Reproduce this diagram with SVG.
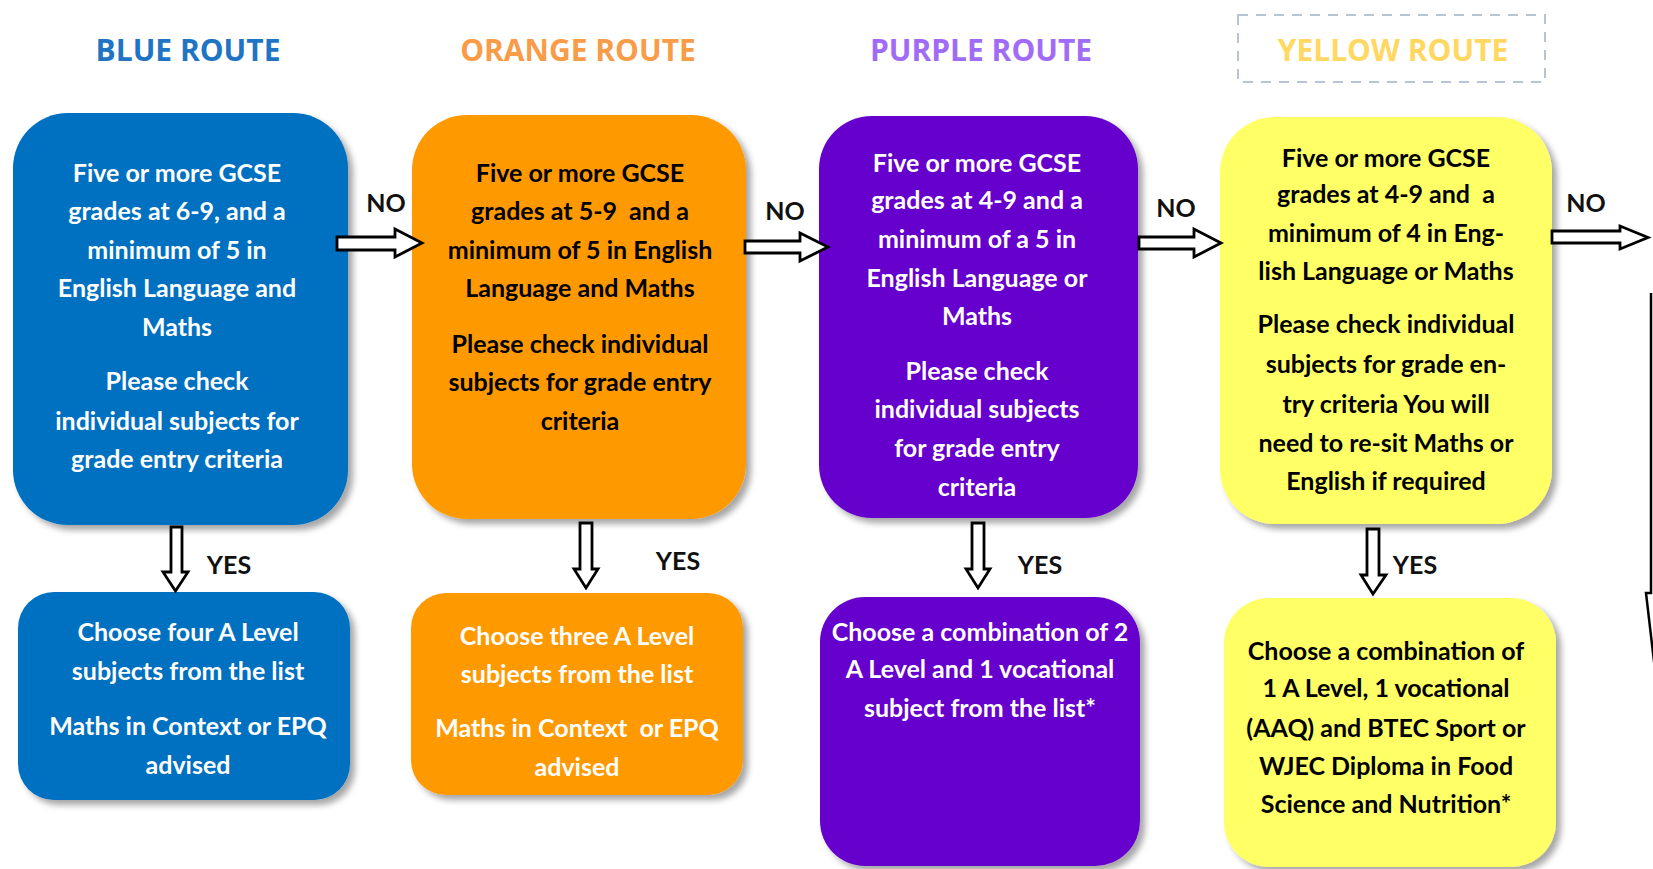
<svg xmlns="http://www.w3.org/2000/svg" width="1653" height="869" viewBox="0 0 1653 869">
<style>
.title{font-family:"Open Sans","Liberation Sans",sans-serif;font-weight:700;font-size:30px;text-anchor:middle}
.t{font-family:Lato,"Liberation Sans",sans-serif;font-weight:700;font-size:25px;text-anchor:middle;white-space:pre}
.w{fill:#ffffff}
.k{fill:#000000}
.lbl{font-family:Lato,"Liberation Sans",sans-serif;font-weight:700;font-size:25px;text-anchor:middle;fill:#111111}
.arr{fill:#ffffff;stroke:#000000;stroke-width:2.8;stroke-linejoin:miter}
.box{filter:url(#sh)}
</style>
<defs>
<filter id="sh" x="-10%" y="-10%" width="125%" height="125%">
<feDropShadow dx="5" dy="5" stdDeviation="3" flood-color="#000000" flood-opacity="0.35"/>
</filter>
</defs>
<rect width="1653" height="869" fill="#ffffff"/>

<g id="title-blue"><text class="title" x="188" y="61" fill="#1F74C4">BLUE ROUTE</text></g>
<g id="title-orange"><text class="title" x="578" y="61" fill="#F89C48">ORANGE ROUTE</text></g>
<g id="title-purple"><text class="title" x="981" y="61" fill="#A06CF6">PURPLE ROUTE</text></g>
<g id="title-yellow">
<rect x="1238" y="15" width="307" height="67" fill="none" stroke="#B8C4D4" stroke-width="2" stroke-dasharray="10,8"/>
<text class="title" x="1393" y="61" fill="#FFD862">YELLOW ROUTE</text>
</g>

<g id="blue-criteria">
<rect class="box" x="13" y="113" width="335" height="412" rx="55" ry="55" fill="#0070C0"/>
<text class="t w" x="177"><tspan x="177" y="182">Five or more GCSE</tspan><tspan x="177" y="220">grades at 6-9, and a</tspan><tspan x="177" y="259">minimum of 5 in</tspan><tspan x="177" y="297">English Language and</tspan><tspan x="177" y="336">Maths</tspan><tspan x="177" y="390">Please check</tspan><tspan x="177" y="430">individual subjects for</tspan><tspan x="177" y="468">grade entry criteria</tspan></text>
</g>
<g id="orange-criteria">
<rect class="box" x="412" y="115" width="334" height="404" rx="55" ry="55" fill="#FF9900"/>
<text class="t k" x="580"><tspan x="580" y="182">Five or more GCSE</tspan><tspan x="580" y="220">grades at 5-9  and a</tspan><tspan x="580" y="259">minimum of 5 in English</tspan><tspan x="580" y="297">Language and Maths</tspan><tspan x="580" y="353">Please check individual</tspan><tspan x="580" y="391">subjects for grade entry</tspan><tspan x="580" y="430">criteria</tspan></text>
</g>
<g id="purple-criteria">
<rect class="box" x="819" y="116" width="319" height="402" rx="53" ry="53" fill="#6600CC"/>
<text class="t w" x="977"><tspan x="977" y="172">Five or more GCSE</tspan><tspan x="977" y="209">grades at 4-9 and a</tspan><tspan x="977" y="248">minimum of a 5 in</tspan><tspan x="977" y="287">English Language or</tspan><tspan x="977" y="325">Maths</tspan><tspan x="977" y="380">Please check</tspan><tspan x="977" y="418">individual subjects</tspan><tspan x="977" y="457">for grade entry</tspan><tspan x="977" y="496">criteria</tspan></text>
</g>
<g id="yellow-criteria">
<rect class="box" x="1220" y="117" width="332" height="407" rx="55" ry="55" fill="#FFFF66"/>
<text class="t k" x="1386"><tspan x="1386" y="167">Five or more GCSE</tspan><tspan x="1386" y="203">grades at 4-9 and  a</tspan><tspan x="1386" y="242">minimum of 4 in Eng-</tspan><tspan x="1386" y="280">lish Language or Maths</tspan><tspan x="1386" y="333">Please check individual</tspan><tspan x="1386" y="373">subjects for grade en-</tspan><tspan x="1386" y="413">try criteria You will</tspan><tspan x="1386" y="452">need to re-sit Maths or</tspan><tspan x="1386" y="490">English if required</tspan></text>
</g>

<g id="blue-outcome">
<rect class="box" x="18" y="592" width="332" height="208" rx="36" ry="36" fill="#0070C0"/>
<text class="t w" x="188"><tspan x="188" y="641">Choose four A Level</tspan><tspan x="188" y="680">subjects from the list</tspan><tspan x="188" y="735">Maths in Context or EPQ</tspan><tspan x="188" y="774">advised</tspan></text>
</g>
<g id="orange-outcome">
<rect class="box" x="411" y="593" width="332" height="202" rx="35" ry="35" fill="#FF9900"/>
<text class="t w" x="577"><tspan x="577" y="645">Choose three A Level</tspan><tspan x="577" y="683">subjects from the list</tspan><tspan x="577" y="737">Maths in Context  or EPQ</tspan><tspan x="577" y="776">advised</tspan></text>
</g>
<g id="purple-outcome">
<rect class="box" x="820" y="597" width="320" height="269" rx="45" ry="45" fill="#6600CC"/>
<text class="t w" x="980"><tspan x="980" y="641">Choose a combination of 2</tspan><tspan x="980" y="678">A Level and 1 vocational</tspan><tspan x="980" y="717">subject from the list*</tspan></text>
</g>
<g id="yellow-outcome">
<rect class="box" x="1224" y="598" width="332" height="269" rx="45" ry="45" fill="#FFFF66"/>
<text class="t k" x="1386"><tspan x="1386" y="660">Choose a combination of</tspan><tspan x="1386" y="697">1 A Level, 1 vocational</tspan><tspan x="1386" y="737">(AAQ) and BTEC Sport or</tspan><tspan x="1386" y="775">WJEC Diploma in Food</tspan><tspan x="1386" y="813">Science and Nutrition*</tspan></text>
</g>

<g id="connectors">
<path class="arr" d="M337,237 H395 V229 L422,243 L395,257 V250 H337 Z"/>
<path class="arr" d="M745,241 H800 V233 L828,247 L800,261 V253 H745 Z"/>
<path class="arr" d="M1139,237 H1194 V229 L1221,243 L1194,257 V249 H1139 Z"/>
<path class="arr" d="M1552,231 H1620 V226 L1648,237.5 L1620,249 V243 H1552 Z"/>
<path class="arr" d="M171,527 H182 V572 H188 L175.5,591 L163,572 H171 Z"/>
<path class="arr" d="M580,523 H592 V569 H598 L586,588 L574,569 H580 Z"/>
<path class="arr" d="M972,523 H984 V569 H990 L978,588 L966,569 H972 Z"/>
<path class="arr" d="M1367,529 H1379 V575 H1386 L1373,594 L1361,575 H1367 Z"/>
<path d="M1651,293 V593 H1646 L1662,730" fill="none" stroke="#000000" stroke-width="2.5"/>
<text class="lbl" x="386" y="212">NO</text>
<text class="lbl" x="785" y="220">NO</text>
<text class="lbl" x="1176" y="217">NO</text>
<text class="lbl" x="1586" y="212">NO</text>
<text class="lbl" x="229" y="574">YES</text>
<text class="lbl" x="678" y="570">YES</text>
<text class="lbl" x="1040" y="574">YES</text>
<text class="lbl" x="1415" y="574">YES</text>
</g>
</svg>
